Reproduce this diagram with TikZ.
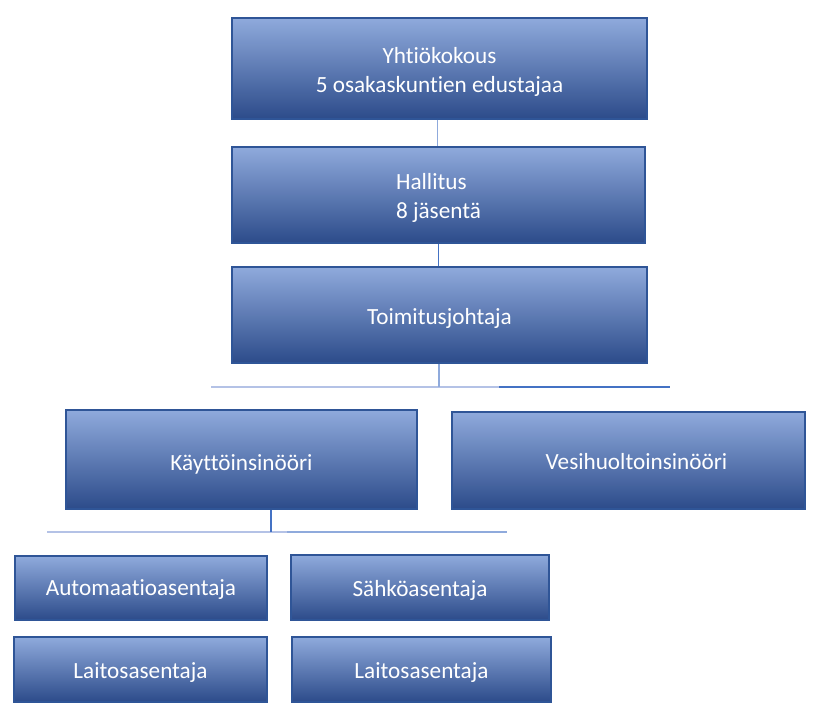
\documentclass[tikz,border=0pt]{standalone}
\usepackage{fontspec}
\setmainfont{Carlito}[Ligatures=NoCommon]
\definecolor{topc}{HTML}{8FAADC}
\definecolor{midc}{HTML}{4774C6}
\definecolor{botc}{HTML}{2C4B8A}
\definecolor{bordc}{HTML}{2F5597}
\definecolor{lnlight}{HTML}{B4C2E6}
\definecolor{lnmid}{HTML}{8FAADC}
\definecolor{lndark}{HTML}{4472C4}
% \obox{name}{left}{top}{right}{bottom}{dx}{dy}{text}
\newcommand\obox[8]{%
  \node[ob, minimum width={(#4-#2)*0.75pt}, minimum height={(#5-#3)*0.75pt}] (#1) at ({(#2+#4)/2},{(#3+#5)/2}) {};
  \node[obtext] (#1t) at ({(#2+#4)/2+#6},{(#3+#5)/2+#7}) {#8};}
\begin{document}
\begin{tikzpicture}[x=0.75pt,y=-0.75pt,
  ob/.style={rectangle, draw=bordc, line width=1.3pt, top color=topc, middle color=midc, bottom color=botc, inner sep=0pt},
  obtext/.style={text=white, align=center, inner sep=0pt, font=\fontsize{17.4pt}{21.75pt}\selectfont},
  cmid/.style={draw=lnmid, line width=1.1pt},
  cdark/.style={draw=lndark, line width=0.8pt},
  clight/.style={draw=lnlight, line width=1.5pt}]
\useasboundingbox[fill=white] (0,0) rectangle (822,717);
\obox{b1}{232}{18}{647}{119}{0}{3.5}{Yhtiökokous\\5 osakaskuntien edustajaa}
\tikzset{obtext/.append style={align=left}}
\obox{b2}{232}{147}{645}{243}{0}{3}{Hallitus\\8 jäsentä}
\tikzset{obtext/.append style={align=center}}
\obox{b3}{232}{267}{647}{363}{0}{3}{Toimitusjohtaja}
\obox{b4}{66}{410}{417}{509}{0}{5}{Käyttöinsinööri}
\obox{b5}{452}{412}{805}{509}{8}{1}{Vesihuoltoinsinööri}
\obox{b6}{15}{556}{267}{620}{0}{2}{Automaatioasentaja}
\obox{b7}{291}{555}{549}{620}{0}{3}{Sähköasentaja}
\obox{b8}{14}{637}{267}{702}{0}{3}{Laitosasentaja}
\obox{b9}{292}{637}{551}{702}{0}{3}{Laitosasentaja}
% connector coordinates
\coordinate (v1) at (437.5,119);
\coordinate (j1) at (439,387);
\coordinate (h1L) at (211,387);
\coordinate (h1M) at (499,387);
\coordinate (h1R) at (670,387);
\coordinate (v2) at (271,509);
\coordinate (j2) at (271,532);
\coordinate (h2L) at (47,532);
\coordinate (h2M) at (287,532);
\coordinate (h2R) at (507,532);
% connectors
\draw[cmid] (b1.south -| v1) -- (b2.north -| v1);
\draw[cdark] (b2.south) -- (b3.north -| b2.south);
\draw[clight] (h1L) -- (h1M);
\draw[cdark] (h1M) -- (h1R);
\draw[cmid] (b3.south -| j1) -- (j1);
\draw[clight] (h2L) -- (h2M);
\draw[cmid] (h2M) -- (h2R);
\draw[cdark] (b4.south -| v2) -- (j2);
\end{tikzpicture}
\end{document}
